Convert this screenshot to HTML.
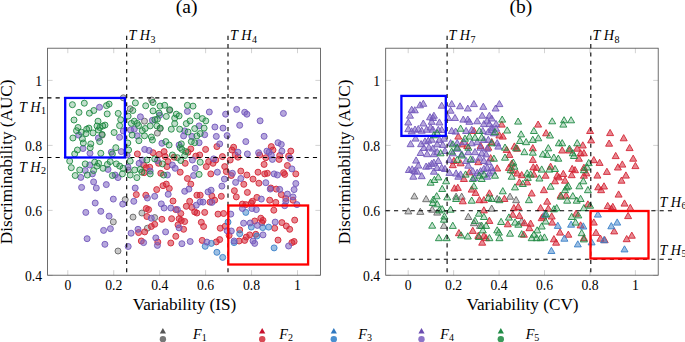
<!DOCTYPE html><html><head><meta charset="utf-8"><style>
html,body{margin:0;padding:0;background:#fff;width:685px;height:342px;overflow:hidden}
svg{display:block}
text{font-family:"Liberation Serif",serif;fill:#000}
.tk{font-size:13.7px}
.lab{font-size:17.2px}
.th{font-size:14.2px;font-style:italic}
.sub{font-size:10px;font-style:normal}
</style></head><body>
<svg width="685" height="342" viewBox="0 0 685 342">
<g stroke="#b4b4b4" stroke-width="0.6">
<line x1="67.80" y1="275.2" x2="67.80" y2="270.2"/>
<line x1="67.80" y1="48.2" x2="67.80" y2="53.2"/>
<line x1="113.74" y1="275.2" x2="113.74" y2="270.2"/>
<line x1="113.74" y1="48.2" x2="113.74" y2="53.2"/>
<line x1="159.68" y1="275.2" x2="159.68" y2="270.2"/>
<line x1="159.68" y1="48.2" x2="159.68" y2="53.2"/>
<line x1="205.62" y1="275.2" x2="205.62" y2="270.2"/>
<line x1="205.62" y1="48.2" x2="205.62" y2="53.2"/>
<line x1="251.56" y1="275.2" x2="251.56" y2="270.2"/>
<line x1="251.56" y1="48.2" x2="251.56" y2="53.2"/>
<line x1="297.50" y1="275.2" x2="297.50" y2="270.2"/>
<line x1="297.50" y1="48.2" x2="297.50" y2="53.2"/>
<line x1="47.6" y1="275.40" x2="52.6" y2="275.40"/>
<line x1="320.4" y1="275.40" x2="315.4" y2="275.40"/>
<line x1="47.6" y1="210.40" x2="52.6" y2="210.40"/>
<line x1="320.4" y1="210.40" x2="315.4" y2="210.40"/>
<line x1="47.6" y1="145.40" x2="52.6" y2="145.40"/>
<line x1="320.4" y1="145.40" x2="315.4" y2="145.40"/>
<line x1="47.6" y1="80.40" x2="52.6" y2="80.40"/>
<line x1="320.4" y1="80.40" x2="315.4" y2="80.40"/>
<line x1="408.20" y1="275.2" x2="408.20" y2="270.2"/>
<line x1="408.20" y1="48.2" x2="408.20" y2="53.2"/>
<line x1="453.64" y1="275.2" x2="453.64" y2="270.2"/>
<line x1="453.64" y1="48.2" x2="453.64" y2="53.2"/>
<line x1="499.08" y1="275.2" x2="499.08" y2="270.2"/>
<line x1="499.08" y1="48.2" x2="499.08" y2="53.2"/>
<line x1="544.52" y1="275.2" x2="544.52" y2="270.2"/>
<line x1="544.52" y1="48.2" x2="544.52" y2="53.2"/>
<line x1="589.96" y1="275.2" x2="589.96" y2="270.2"/>
<line x1="589.96" y1="48.2" x2="589.96" y2="53.2"/>
<line x1="635.40" y1="275.2" x2="635.40" y2="270.2"/>
<line x1="635.40" y1="48.2" x2="635.40" y2="53.2"/>
<line x1="385.7" y1="275.40" x2="390.7" y2="275.40"/>
<line x1="658.2" y1="275.40" x2="653.2" y2="275.40"/>
<line x1="385.7" y1="210.40" x2="390.7" y2="210.40"/>
<line x1="658.2" y1="210.40" x2="653.2" y2="210.40"/>
<line x1="385.7" y1="145.40" x2="390.7" y2="145.40"/>
<line x1="658.2" y1="145.40" x2="653.2" y2="145.40"/>
<line x1="385.7" y1="80.40" x2="390.7" y2="80.40"/>
<line x1="658.2" y1="80.40" x2="653.2" y2="80.40"/>
</g>
<g fill="#888888" fill-opacity="0.45" stroke="#666666" stroke-width="0.9">
<circle cx="123.3" cy="97.8" r="3.0"/>
<circle cx="130.2" cy="108.8" r="3.0"/>
<circle cx="144.5" cy="121.2" r="3.0"/>
<circle cx="102.1" cy="135.1" r="3.0"/>
<circle cx="169.7" cy="110.3" r="3.0"/>
<circle cx="160.2" cy="128.6" r="3.0"/>
<circle cx="157.4" cy="133.1" r="3.0"/>
<circle cx="151.7" cy="100.0" r="3.0"/>
<circle cx="128.2" cy="170.0" r="3.0"/>
<circle cx="125.2" cy="199.6" r="3.0"/>
<circle cx="141.9" cy="213.0" r="3.0"/>
<circle cx="113.3" cy="221.9" r="3.0"/>
<circle cx="133.0" cy="217.1" r="3.0"/>
<circle cx="118.0" cy="251.0" r="3.0"/>
<circle cx="147.4" cy="228.2" r="3.0"/>
<circle cx="154.7" cy="217.6" r="3.0"/>
</g>
<g fill="#d42636" fill-opacity="0.55" stroke="#d42636" stroke-width="0.9">
<circle cx="137.4" cy="153.9" r="3.0"/>
<circle cx="143.6" cy="165.0" r="3.0"/>
<circle cx="144.1" cy="172.7" r="3.0"/>
<circle cx="146.3" cy="167.7" r="3.0"/>
<circle cx="153.0" cy="152.7" r="3.0"/>
<circle cx="159.1" cy="154.4" r="3.0"/>
<circle cx="164.1" cy="151.6" r="3.0"/>
<circle cx="165.2" cy="156.6" r="3.0"/>
<circle cx="168.0" cy="161.6" r="3.0"/>
<circle cx="166.9" cy="166.6" r="3.0"/>
<circle cx="158.6" cy="163.3" r="3.0"/>
<circle cx="190.8" cy="148.9" r="3.0"/>
<circle cx="188.0" cy="152.2" r="3.0"/>
<circle cx="185.2" cy="163.3" r="3.0"/>
<circle cx="180.2" cy="172.2" r="3.0"/>
<circle cx="160.8" cy="173.3" r="3.0"/>
<circle cx="195.8" cy="156.1" r="3.0"/>
<circle cx="149.7" cy="167.2" r="3.0"/>
<circle cx="174.1" cy="157.2" r="3.0"/>
<circle cx="216.9" cy="146.6" r="3.0"/>
<circle cx="205.6" cy="149.4" r="3.0"/>
<circle cx="199.7" cy="155.0" r="3.0"/>
<circle cx="222.4" cy="156.6" r="3.0"/>
<circle cx="230.2" cy="160.0" r="3.0"/>
<circle cx="233.6" cy="147.2" r="3.0"/>
<circle cx="231.9" cy="150.0" r="3.0"/>
<circle cx="235.2" cy="155.0" r="3.0"/>
<circle cx="238.0" cy="157.2" r="3.0"/>
<circle cx="208.6" cy="161.6" r="3.0"/>
<circle cx="213.0" cy="163.3" r="3.0"/>
<circle cx="215.8" cy="160.0" r="3.0"/>
<circle cx="206.3" cy="166.6" r="3.0"/>
<circle cx="224.7" cy="166.6" r="3.0"/>
<circle cx="226.3" cy="171.6" r="3.0"/>
<circle cx="240.8" cy="171.1" r="3.0"/>
<circle cx="210.8" cy="173.9" r="3.0"/>
<circle cx="231.3" cy="175.5" r="3.0"/>
<circle cx="246.9" cy="175.0" r="3.0"/>
<circle cx="271.3" cy="146.6" r="3.0"/>
<circle cx="273.0" cy="150.0" r="3.0"/>
<circle cx="259.7" cy="155.0" r="3.0"/>
<circle cx="265.8" cy="157.7" r="3.0"/>
<circle cx="264.1" cy="164.4" r="3.0"/>
<circle cx="279.7" cy="155.5" r="3.0"/>
<circle cx="279.1" cy="159.4" r="3.0"/>
<circle cx="290.8" cy="151.1" r="3.0"/>
<circle cx="288.6" cy="156.1" r="3.0"/>
<circle cx="287.4" cy="165.5" r="3.0"/>
<circle cx="258.0" cy="172.2" r="3.0"/>
<circle cx="264.7" cy="173.9" r="3.0"/>
<circle cx="267.4" cy="173.3" r="3.0"/>
<circle cx="283.6" cy="172.7" r="3.0"/>
<circle cx="284.7" cy="174.4" r="3.0"/>
<circle cx="295.8" cy="173.9" r="3.0"/>
<circle cx="136.3" cy="194.6" r="3.0"/>
<circle cx="145.8" cy="195.2" r="3.0"/>
<circle cx="146.3" cy="208.5" r="3.0"/>
<circle cx="156.7" cy="189.6" r="3.0"/>
<circle cx="163.0" cy="185.7" r="3.0"/>
<circle cx="166.3" cy="184.1" r="3.0"/>
<circle cx="169.3" cy="188.5" r="3.0"/>
<circle cx="173.0" cy="201.0" r="3.0"/>
<circle cx="187.4" cy="178.5" r="3.0"/>
<circle cx="190.8" cy="184.1" r="3.0"/>
<circle cx="189.7" cy="201.3" r="3.0"/>
<circle cx="186.3" cy="206.3" r="3.0"/>
<circle cx="191.9" cy="207.4" r="3.0"/>
<circle cx="194.7" cy="211.9" r="3.0"/>
<circle cx="196.9" cy="213.0" r="3.0"/>
<circle cx="180.8" cy="213.5" r="3.0"/>
<circle cx="175.8" cy="209.6" r="3.0"/>
<circle cx="148.6" cy="209.6" r="3.0"/>
<circle cx="196.9" cy="195.2" r="3.0"/>
<circle cx="200.2" cy="195.2" r="3.0"/>
<circle cx="211.9" cy="196.1" r="3.0"/>
<circle cx="214.7" cy="200.2" r="3.0"/>
<circle cx="210.0" cy="202.1" r="3.0"/>
<circle cx="221.3" cy="196.3" r="3.0"/>
<circle cx="234.4" cy="190.7" r="3.0"/>
<circle cx="236.3" cy="196.9" r="3.0"/>
<circle cx="243.8" cy="184.3" r="3.0"/>
<circle cx="247.4" cy="192.4" r="3.0"/>
<circle cx="242.4" cy="204.1" r="3.0"/>
<circle cx="245.8" cy="204.6" r="3.0"/>
<circle cx="204.7" cy="212.4" r="3.0"/>
<circle cx="223.6" cy="213.5" r="3.0"/>
<circle cx="218.0" cy="214.1" r="3.0"/>
<circle cx="253.0" cy="179.1" r="3.0"/>
<circle cx="258.9" cy="183.2" r="3.0"/>
<circle cx="256.9" cy="197.4" r="3.0"/>
<circle cx="252.4" cy="201.3" r="3.0"/>
<circle cx="251.3" cy="203.0" r="3.0"/>
<circle cx="269.7" cy="200.2" r="3.0"/>
<circle cx="275.8" cy="202.4" r="3.0"/>
<circle cx="270.8" cy="188.0" r="3.0"/>
<circle cx="276.3" cy="189.1" r="3.0"/>
<circle cx="281.3" cy="194.6" r="3.0"/>
<circle cx="285.8" cy="198.5" r="3.0"/>
<circle cx="293.0" cy="200.2" r="3.0"/>
<circle cx="273.8" cy="210.2" r="3.0"/>
<circle cx="138.6" cy="232.6" r="3.0"/>
<circle cx="144.7" cy="231.9" r="3.0"/>
<circle cx="141.3" cy="241.0" r="3.0"/>
<circle cx="146.9" cy="216.5" r="3.0"/>
<circle cx="161.9" cy="219.3" r="3.0"/>
<circle cx="171.6" cy="218.7" r="3.0"/>
<circle cx="178.0" cy="224.9" r="3.0"/>
<circle cx="179.1" cy="218.7" r="3.0"/>
<circle cx="181.3" cy="220.4" r="3.0"/>
<circle cx="184.7" cy="221.5" r="3.0"/>
<circle cx="183.6" cy="229.3" r="3.0"/>
<circle cx="175.8" cy="236.3" r="3.0"/>
<circle cx="170.8" cy="243.0" r="3.0"/>
<circle cx="157.8" cy="242.1" r="3.0"/>
<circle cx="154.7" cy="224.3" r="3.0"/>
<circle cx="151.3" cy="226.5" r="3.0"/>
<circle cx="201.3" cy="222.3" r="3.0"/>
<circle cx="203.6" cy="226.5" r="3.0"/>
<circle cx="220.2" cy="228.2" r="3.0"/>
<circle cx="225.2" cy="226.3" r="3.0"/>
<circle cx="229.1" cy="235.4" r="3.0"/>
<circle cx="239.7" cy="229.9" r="3.0"/>
<circle cx="202.2" cy="240.4" r="3.0"/>
<circle cx="216.3" cy="241.9" r="3.0"/>
<circle cx="219.7" cy="239.6" r="3.0"/>
<circle cx="239.1" cy="241.0" r="3.0"/>
<circle cx="244.7" cy="240.4" r="3.0"/>
<circle cx="246.3" cy="237.1" r="3.0"/>
<circle cx="254.7" cy="221.0" r="3.0"/>
<circle cx="260.8" cy="218.2" r="3.0"/>
<circle cx="263.0" cy="220.4" r="3.0"/>
<circle cx="261.9" cy="222.6" r="3.0"/>
<circle cx="274.7" cy="228.2" r="3.0"/>
<circle cx="281.9" cy="222.6" r="3.0"/>
<circle cx="286.3" cy="226.0" r="3.0"/>
<circle cx="289.7" cy="229.3" r="3.0"/>
<circle cx="294.7" cy="220.1" r="3.0"/>
<circle cx="249.7" cy="234.9" r="3.0"/>
<circle cx="255.8" cy="234.3" r="3.0"/>
<circle cx="278.0" cy="240.1" r="3.0"/>
<circle cx="291.9" cy="242.6" r="3.0"/>
<circle cx="294.1" cy="241.5" r="3.0"/>
</g>
<g fill="#3a80c8" fill-opacity="0.5" stroke="#3a80c8" stroke-width="0.9">
<circle cx="245.8" cy="212.4" r="3.0"/>
<circle cx="228.0" cy="222.1" r="3.0"/>
<circle cx="239.7" cy="233.7" r="3.0"/>
<circle cx="211.3" cy="243.4" r="3.0"/>
<circle cx="205.2" cy="246.3" r="3.0"/>
<circle cx="234.1" cy="242.6" r="3.0"/>
<circle cx="216.9" cy="252.3" r="3.0"/>
<circle cx="251.3" cy="227.1" r="3.0"/>
<circle cx="262.7" cy="227.6" r="3.0"/>
<circle cx="268.6" cy="227.1" r="3.0"/>
<circle cx="256.9" cy="236.0" r="3.0"/>
<circle cx="274.1" cy="247.9" r="3.0"/>
<circle cx="222.7" cy="257.4" r="3.0"/>
</g>
<g fill="#7a5fc0" fill-opacity="0.55" stroke="#7358bb" stroke-width="0.9">
<circle cx="99.5" cy="107.3" r="3.0"/>
<circle cx="140.4" cy="116.8" r="3.0"/>
<circle cx="130.6" cy="130.0" r="3.0"/>
<circle cx="134.3" cy="129.2" r="3.0"/>
<circle cx="123.3" cy="131.0" r="3.0"/>
<circle cx="137.2" cy="135.8" r="3.0"/>
<circle cx="78.7" cy="135.1" r="3.0"/>
<circle cx="119.6" cy="137.3" r="3.0"/>
<circle cx="98.4" cy="138.0" r="3.0"/>
<circle cx="187.4" cy="111.4" r="3.0"/>
<circle cx="159.7" cy="115.3" r="3.0"/>
<circle cx="152.4" cy="120.3" r="3.0"/>
<circle cx="184.7" cy="130.9" r="3.0"/>
<circle cx="183.6" cy="135.9" r="3.0"/>
<circle cx="191.9" cy="136.4" r="3.0"/>
<circle cx="209.3" cy="112.0" r="3.0"/>
<circle cx="225.6" cy="114.2" r="3.0"/>
<circle cx="236.7" cy="109.4" r="3.0"/>
<circle cx="244.7" cy="112.3" r="3.0"/>
<circle cx="246.9" cy="114.2" r="3.0"/>
<circle cx="239.7" cy="125.3" r="3.0"/>
<circle cx="214.9" cy="127.0" r="3.0"/>
<circle cx="223.0" cy="128.1" r="3.0"/>
<circle cx="227.1" cy="135.6" r="3.0"/>
<circle cx="216.3" cy="136.4" r="3.0"/>
<circle cx="199.1" cy="125.9" r="3.0"/>
<circle cx="204.7" cy="134.7" r="3.0"/>
<circle cx="283.4" cy="113.4" r="3.0"/>
<circle cx="260.1" cy="120.8" r="3.0"/>
<circle cx="264.1" cy="136.3" r="3.0"/>
<circle cx="83.0" cy="148.5" r="3.0"/>
<circle cx="90.0" cy="153.3" r="3.0"/>
<circle cx="89.7" cy="165.0" r="3.0"/>
<circle cx="85.2" cy="170.5" r="3.0"/>
<circle cx="92.4" cy="173.9" r="3.0"/>
<circle cx="111.3" cy="152.2" r="3.0"/>
<circle cx="121.3" cy="151.6" r="3.0"/>
<circle cx="127.1" cy="155.0" r="3.0"/>
<circle cx="144.7" cy="149.4" r="3.0"/>
<circle cx="139.1" cy="163.3" r="3.0"/>
<circle cx="108.0" cy="169.4" r="3.0"/>
<circle cx="128.0" cy="167.2" r="3.0"/>
<circle cx="142.4" cy="160.0" r="3.0"/>
<circle cx="115.2" cy="175.0" r="3.0"/>
<circle cx="161.9" cy="143.3" r="3.0"/>
<circle cx="179.1" cy="145.0" r="3.0"/>
<circle cx="149.1" cy="150.5" r="3.0"/>
<circle cx="192.4" cy="160.0" r="3.0"/>
<circle cx="172.4" cy="165.0" r="3.0"/>
<circle cx="175.2" cy="168.3" r="3.0"/>
<circle cx="157.4" cy="160.5" r="3.0"/>
<circle cx="150.2" cy="171.1" r="3.0"/>
<circle cx="195.2" cy="168.3" r="3.0"/>
<circle cx="167.4" cy="175.0" r="3.0"/>
<circle cx="193.6" cy="175.5" r="3.0"/>
<circle cx="199.1" cy="142.7" r="3.0"/>
<circle cx="219.7" cy="143.9" r="3.0"/>
<circle cx="238.0" cy="152.2" r="3.0"/>
<circle cx="245.8" cy="141.6" r="3.0"/>
<circle cx="247.4" cy="153.9" r="3.0"/>
<circle cx="213.6" cy="158.9" r="3.0"/>
<circle cx="217.4" cy="172.2" r="3.0"/>
<circle cx="232.4" cy="173.3" r="3.0"/>
<circle cx="258.6" cy="152.7" r="3.0"/>
<circle cx="266.9" cy="151.1" r="3.0"/>
<circle cx="269.1" cy="152.2" r="3.0"/>
<circle cx="271.3" cy="155.0" r="3.0"/>
<circle cx="272.4" cy="159.4" r="3.0"/>
<circle cx="278.0" cy="142.7" r="3.0"/>
<circle cx="281.3" cy="144.4" r="3.0"/>
<circle cx="281.9" cy="151.1" r="3.0"/>
<circle cx="290.2" cy="158.3" r="3.0"/>
<circle cx="291.9" cy="168.9" r="3.0"/>
<circle cx="274.1" cy="173.9" r="3.0"/>
<circle cx="277.4" cy="175.0" r="3.0"/>
<circle cx="80.8" cy="177.4" r="3.0"/>
<circle cx="93.6" cy="181.9" r="3.0"/>
<circle cx="81.6" cy="187.4" r="3.0"/>
<circle cx="96.3" cy="188.0" r="3.0"/>
<circle cx="95.2" cy="203.0" r="3.0"/>
<circle cx="85.8" cy="212.4" r="3.0"/>
<circle cx="118.0" cy="177.6" r="3.0"/>
<circle cx="106.3" cy="184.6" r="3.0"/>
<circle cx="135.2" cy="188.0" r="3.0"/>
<circle cx="113.3" cy="199.1" r="3.0"/>
<circle cx="122.7" cy="204.1" r="3.0"/>
<circle cx="133.8" cy="201.3" r="3.0"/>
<circle cx="100.8" cy="211.3" r="3.0"/>
<circle cx="109.1" cy="216.1" r="3.0"/>
<circle cx="147.4" cy="198.0" r="3.0"/>
<circle cx="154.7" cy="196.3" r="3.0"/>
<circle cx="168.2" cy="194.3" r="3.0"/>
<circle cx="161.3" cy="203.9" r="3.0"/>
<circle cx="164.1" cy="208.0" r="3.0"/>
<circle cx="170.8" cy="208.0" r="3.0"/>
<circle cx="177.4" cy="209.6" r="3.0"/>
<circle cx="184.7" cy="191.3" r="3.0"/>
<circle cx="188.9" cy="189.1" r="3.0"/>
<circle cx="196.3" cy="205.2" r="3.0"/>
<circle cx="224.4" cy="179.1" r="3.0"/>
<circle cx="221.9" cy="186.1" r="3.0"/>
<circle cx="208.0" cy="191.9" r="3.0"/>
<circle cx="211.1" cy="190.2" r="3.0"/>
<circle cx="235.6" cy="182.4" r="3.0"/>
<circle cx="240.8" cy="178.5" r="3.0"/>
<circle cx="200.2" cy="201.9" r="3.0"/>
<circle cx="203.0" cy="202.1" r="3.0"/>
<circle cx="211.9" cy="202.4" r="3.0"/>
<circle cx="242.4" cy="208.5" r="3.0"/>
<circle cx="230.8" cy="214.1" r="3.0"/>
<circle cx="265.8" cy="182.7" r="3.0"/>
<circle cx="270.2" cy="189.1" r="3.0"/>
<circle cx="279.7" cy="189.4" r="3.0"/>
<circle cx="261.3" cy="199.1" r="3.0"/>
<circle cx="287.4" cy="194.1" r="3.0"/>
<circle cx="285.8" cy="201.3" r="3.0"/>
<circle cx="293.0" cy="196.9" r="3.0"/>
<circle cx="295.8" cy="183.5" r="3.0"/>
<circle cx="294.1" cy="189.6" r="3.0"/>
<circle cx="296.9" cy="204.6" r="3.0"/>
<circle cx="284.7" cy="205.7" r="3.0"/>
<circle cx="251.9" cy="208.5" r="3.0"/>
<circle cx="256.3" cy="209.6" r="3.0"/>
<circle cx="87.1" cy="238.7" r="3.0"/>
<circle cx="103.6" cy="230.4" r="3.0"/>
<circle cx="110.4" cy="228.7" r="3.0"/>
<circle cx="104.9" cy="244.3" r="3.0"/>
<circle cx="131.1" cy="233.2" r="3.0"/>
<circle cx="128.2" cy="246.5" r="3.0"/>
<circle cx="138.0" cy="229.3" r="3.0"/>
<circle cx="143.6" cy="242.6" r="3.0"/>
<circle cx="151.3" cy="218.2" r="3.0"/>
<circle cx="165.6" cy="231.9" r="3.0"/>
<circle cx="155.8" cy="237.9" r="3.0"/>
<circle cx="157.4" cy="245.4" r="3.0"/>
<circle cx="179.1" cy="227.9" r="3.0"/>
<circle cx="181.9" cy="243.7" r="3.0"/>
<circle cx="190.2" cy="241.5" r="3.0"/>
<circle cx="206.9" cy="242.1" r="3.0"/>
<circle cx="227.1" cy="230.7" r="3.0"/>
<circle cx="231.3" cy="231.0" r="3.0"/>
<circle cx="234.1" cy="241.0" r="3.0"/>
<circle cx="243.6" cy="223.2" r="3.0"/>
<circle cx="250.2" cy="223.0" r="3.0"/>
<circle cx="257.4" cy="225.4" r="3.0"/>
<circle cx="275.2" cy="222.1" r="3.0"/>
<circle cx="263.0" cy="234.9" r="3.0"/>
<circle cx="253.0" cy="241.0" r="3.0"/>
<circle cx="254.7" cy="243.4" r="3.0"/>
<circle cx="288.6" cy="246.0" r="3.0"/>
</g>
<g fill="#1f8a43" fill-opacity="0.28" stroke="#1f8a43" stroke-width="0.9">
<circle cx="72.4" cy="104.7" r="3.0"/>
<circle cx="84.3" cy="103.2" r="3.0"/>
<circle cx="79.0" cy="112.4" r="3.0"/>
<circle cx="89.4" cy="113.2" r="3.0"/>
<circle cx="93.8" cy="110.5" r="3.0"/>
<circle cx="106.5" cy="105.6" r="3.0"/>
<circle cx="109.1" cy="104.1" r="3.0"/>
<circle cx="107.2" cy="113.9" r="3.0"/>
<circle cx="74.0" cy="120.0" r="3.0"/>
<circle cx="98.0" cy="121.2" r="3.0"/>
<circle cx="118.2" cy="113.4" r="3.0"/>
<circle cx="120.7" cy="119.7" r="3.0"/>
<circle cx="119.6" cy="125.6" r="3.0"/>
<circle cx="114.1" cy="132.5" r="3.0"/>
<circle cx="78.0" cy="127.5" r="3.0"/>
<circle cx="76.5" cy="130.7" r="3.0"/>
<circle cx="81.3" cy="132.2" r="3.0"/>
<circle cx="86.7" cy="129.2" r="3.0"/>
<circle cx="88.9" cy="128.1" r="3.0"/>
<circle cx="93.0" cy="132.9" r="3.0"/>
<circle cx="97.0" cy="126.0" r="3.0"/>
<circle cx="99.9" cy="127.5" r="3.0"/>
<circle cx="102.8" cy="126.0" r="3.0"/>
<circle cx="105.0" cy="125.1" r="3.0"/>
<circle cx="98.4" cy="130.0" r="3.0"/>
<circle cx="102.1" cy="134.4" r="3.0"/>
<circle cx="86.0" cy="133.6" r="3.0"/>
<circle cx="135.4" cy="102.9" r="3.0"/>
<circle cx="145.7" cy="105.8" r="3.0"/>
<circle cx="132.8" cy="110.5" r="3.0"/>
<circle cx="128.1" cy="116.1" r="3.0"/>
<circle cx="134.3" cy="121.2" r="3.0"/>
<circle cx="137.2" cy="123.4" r="3.0"/>
<circle cx="131.3" cy="123.4" r="3.0"/>
<circle cx="138.6" cy="125.6" r="3.0"/>
<circle cx="142.3" cy="130.7" r="3.0"/>
<circle cx="132.1" cy="135.1" r="3.0"/>
<circle cx="144.5" cy="135.8" r="3.0"/>
<circle cx="145.2" cy="128.5" r="3.0"/>
<circle cx="72.9" cy="138.0" r="3.0"/>
<circle cx="153.0" cy="102.5" r="3.0"/>
<circle cx="160.0" cy="106.1" r="3.0"/>
<circle cx="164.7" cy="105.3" r="3.0"/>
<circle cx="169.7" cy="109.7" r="3.0"/>
<circle cx="187.4" cy="105.3" r="3.0"/>
<circle cx="193.0" cy="106.1" r="3.0"/>
<circle cx="153.0" cy="110.9" r="3.0"/>
<circle cx="159.1" cy="113.1" r="3.0"/>
<circle cx="166.3" cy="116.4" r="3.0"/>
<circle cx="176.3" cy="114.2" r="3.0"/>
<circle cx="179.1" cy="115.9" r="3.0"/>
<circle cx="174.7" cy="118.1" r="3.0"/>
<circle cx="154.9" cy="119.7" r="3.0"/>
<circle cx="157.4" cy="119.2" r="3.0"/>
<circle cx="174.7" cy="123.6" r="3.0"/>
<circle cx="186.3" cy="123.6" r="3.0"/>
<circle cx="190.0" cy="120.9" r="3.0"/>
<circle cx="150.2" cy="125.9" r="3.0"/>
<circle cx="156.9" cy="125.9" r="3.0"/>
<circle cx="160.2" cy="128.1" r="3.0"/>
<circle cx="171.3" cy="129.2" r="3.0"/>
<circle cx="179.7" cy="129.2" r="3.0"/>
<circle cx="188.0" cy="132.0" r="3.0"/>
<circle cx="194.7" cy="128.6" r="3.0"/>
<circle cx="196.9" cy="115.9" r="3.0"/>
<circle cx="151.3" cy="137.0" r="3.0"/>
<circle cx="196.9" cy="135.9" r="3.0"/>
<circle cx="202.4" cy="118.6" r="3.0"/>
<circle cx="205.8" cy="120.9" r="3.0"/>
<circle cx="204.1" cy="128.1" r="3.0"/>
<circle cx="200.2" cy="133.6" r="3.0"/>
<circle cx="82.4" cy="138.9" r="3.0"/>
<circle cx="83.3" cy="143.0" r="3.0"/>
<circle cx="90.8" cy="143.9" r="3.0"/>
<circle cx="90.2" cy="147.7" r="3.0"/>
<circle cx="77.4" cy="150.0" r="3.0"/>
<circle cx="74.7" cy="153.9" r="3.0"/>
<circle cx="69.7" cy="161.1" r="3.0"/>
<circle cx="71.3" cy="167.7" r="3.0"/>
<circle cx="79.7" cy="170.0" r="3.0"/>
<circle cx="85.2" cy="163.9" r="3.0"/>
<circle cx="94.7" cy="162.2" r="3.0"/>
<circle cx="93.6" cy="170.5" r="3.0"/>
<circle cx="75.2" cy="175.5" r="3.0"/>
<circle cx="87.4" cy="175.0" r="3.0"/>
<circle cx="96.9" cy="166.1" r="3.0"/>
<circle cx="99.7" cy="141.6" r="3.0"/>
<circle cx="115.8" cy="147.7" r="3.0"/>
<circle cx="112.4" cy="153.9" r="3.0"/>
<circle cx="100.8" cy="153.3" r="3.0"/>
<circle cx="127.8" cy="143.0" r="3.0"/>
<circle cx="128.6" cy="150.0" r="3.0"/>
<circle cx="138.9" cy="140.7" r="3.0"/>
<circle cx="130.2" cy="161.1" r="3.0"/>
<circle cx="110.2" cy="161.6" r="3.0"/>
<circle cx="107.4" cy="164.4" r="3.0"/>
<circle cx="103.0" cy="168.3" r="3.0"/>
<circle cx="116.3" cy="163.9" r="3.0"/>
<circle cx="119.7" cy="166.1" r="3.0"/>
<circle cx="123.0" cy="168.3" r="3.0"/>
<circle cx="134.7" cy="170.0" r="3.0"/>
<circle cx="140.2" cy="169.4" r="3.0"/>
<circle cx="141.9" cy="172.2" r="3.0"/>
<circle cx="146.9" cy="160.0" r="3.0"/>
<circle cx="122.4" cy="173.9" r="3.0"/>
<circle cx="130.2" cy="175.0" r="3.0"/>
<circle cx="112.4" cy="175.5" r="3.0"/>
<circle cx="98.6" cy="163.3" r="3.0"/>
<circle cx="152.4" cy="140.0" r="3.0"/>
<circle cx="165.8" cy="141.6" r="3.0"/>
<circle cx="169.1" cy="145.0" r="3.0"/>
<circle cx="181.3" cy="143.9" r="3.0"/>
<circle cx="180.2" cy="147.7" r="3.0"/>
<circle cx="181.9" cy="149.4" r="3.0"/>
<circle cx="191.3" cy="141.6" r="3.0"/>
<circle cx="194.7" cy="142.7" r="3.0"/>
<circle cx="185.8" cy="151.6" r="3.0"/>
<circle cx="184.7" cy="155.5" r="3.0"/>
<circle cx="172.4" cy="155.0" r="3.0"/>
<circle cx="177.4" cy="157.7" r="3.0"/>
<circle cx="180.8" cy="160.5" r="3.0"/>
<circle cx="162.4" cy="163.9" r="3.0"/>
<circle cx="150.2" cy="173.9" r="3.0"/>
<circle cx="163.6" cy="175.0" r="3.0"/>
<circle cx="154.7" cy="158.9" r="3.0"/>
<circle cx="200.2" cy="162.2" r="3.0"/>
<circle cx="199.1" cy="174.4" r="3.0"/>
<circle cx="136.9" cy="177.6" r="3.0"/>
</g>
<g fill="#888888" fill-opacity="0.45" stroke="#666666" stroke-width="0.9">
<path d="M414.4 192.8L417.9 198.9L410.9 198.9Z"/>
<path d="M426.1 195.5L429.6 201.7L422.6 201.7Z"/>
<path d="M408.3 207.8L411.8 213.9L404.8 213.9Z"/>
<path d="M420.3 208.2L423.8 214.4L416.8 214.4Z"/>
<path d="M432.2 206.0L435.7 212.2L428.7 212.2Z"/>
<path d="M456.1 193.1L459.6 199.2L452.6 199.2Z"/>
<path d="M461.7 193.1L465.2 199.2L458.2 199.2Z"/>
<path d="M437.2 208.9L440.7 215.1L433.7 215.1Z"/>
<path d="M468.3 213.3L471.8 219.5L464.8 219.5Z"/>
<path d="M443.9 222.2L447.4 228.4L440.4 228.4Z"/>
<path d="M473.9 219.5L477.4 225.7L470.4 225.7Z"/>
<path d="M480.0 222.2L483.5 228.4L476.5 228.4Z"/>
<path d="M497.2 195.3L500.7 201.5L493.7 201.5Z"/>
<path d="M510.0 193.1L513.5 199.2L506.5 199.2Z"/>
<path d="M516.1 196.5L519.6 202.7L512.6 202.7Z"/>
<path d="M491.7 205.0L495.2 211.2L488.2 211.2Z"/>
<path d="M521.7 217.8L525.2 224.0L518.2 224.0Z"/>
</g>
<g fill="#d42636" fill-opacity="0.55" stroke="#d42636" stroke-width="0.9">
<path d="M458.3 132.9L461.8 139.1L454.8 139.1Z"/>
<path d="M473.9 127.4L477.4 133.5L470.4 133.5Z"/>
<path d="M461.7 140.8L465.2 146.9L458.2 146.9Z"/>
<path d="M467.2 142.3L470.7 148.5L463.7 148.5Z"/>
<path d="M480.6 142.3L484.1 148.5L477.1 148.5Z"/>
<path d="M453.9 157.3L457.4 163.5L450.4 163.5Z"/>
<path d="M478.3 158.5L481.8 164.7L474.8 164.7Z"/>
<path d="M460.6 159.6L464.1 165.8L457.1 165.8Z"/>
<path d="M452.8 161.5L456.3 167.7L449.3 167.7Z"/>
<path d="M463.9 175.3L467.4 181.5L460.4 181.5Z"/>
<path d="M469.4 168.8L472.9 174.9L465.9 174.9Z"/>
<path d="M454.4 184.8L457.9 191.0L450.9 191.0Z"/>
<path d="M457.8 184.2L461.3 190.4L454.3 190.4Z"/>
<path d="M471.7 185.9L475.2 192.1L468.2 192.1Z"/>
<path d="M475.6 189.2L479.1 195.4L472.1 195.4Z"/>
<path d="M479.4 196.5L482.9 202.7L475.9 202.7Z"/>
<path d="M483.9 196.5L487.4 202.7L480.4 202.7Z"/>
<path d="M462.8 197.6L466.3 203.8L459.3 203.8Z"/>
<path d="M483.9 206.8L487.4 212.9L480.4 212.9Z"/>
<path d="M458.9 229.5L462.4 235.7L455.4 235.7Z"/>
<path d="M472.8 227.2L476.3 233.4L469.3 233.4Z"/>
<path d="M478.3 232.2L481.8 238.4L474.8 238.4Z"/>
<path d="M483.9 232.2L487.4 238.4L480.4 238.4Z"/>
<path d="M482.2 239.0L485.7 245.2L478.7 245.2Z"/>
<path d="M501.7 121.0L505.2 127.1L498.2 127.1Z"/>
<path d="M502.8 132.9L506.3 139.1L499.3 139.1Z"/>
<path d="M499.4 131.8L502.9 138.0L495.9 138.0Z"/>
<path d="M491.7 138.5L495.2 144.7L488.2 144.7Z"/>
<path d="M488.3 144.0L491.8 150.2L484.8 150.2Z"/>
<path d="M506.7 146.2L510.2 152.4L503.2 152.4Z"/>
<path d="M509.4 151.2L512.9 157.4L505.9 157.4Z"/>
<path d="M514.4 142.9L517.9 149.1L510.9 149.1Z"/>
<path d="M517.2 145.1L520.7 151.2L513.7 151.2Z"/>
<path d="M532.8 144.6L536.3 150.8L529.3 150.8Z"/>
<path d="M532.8 156.2L536.3 162.4L529.3 162.4Z"/>
<path d="M490.6 154.6L494.1 160.8L487.1 160.8Z"/>
<path d="M511.7 160.1L515.2 166.2L508.2 166.2Z"/>
<path d="M497.2 164.8L500.7 171.0L493.7 171.0Z"/>
<path d="M508.9 164.2L512.4 170.4L505.4 170.4Z"/>
<path d="M512.8 167.0L516.3 173.2L509.3 173.2Z"/>
<path d="M517.2 169.8L520.7 176.0L513.7 176.0Z"/>
<path d="M521.7 171.5L525.2 177.7L518.2 177.7Z"/>
<path d="M519.4 178.8L522.9 184.9L515.9 184.9Z"/>
<path d="M527.2 178.8L530.7 184.9L523.7 184.9Z"/>
<path d="M533.3 163.8L536.8 169.9L529.8 169.9Z"/>
<path d="M489.4 189.8L492.9 196.0L485.9 196.0Z"/>
<path d="M504.4 195.3L507.9 201.5L500.9 201.5Z"/>
<path d="M531.7 189.8L535.2 196.0L528.2 196.0Z"/>
<path d="M533.9 170.9L537.4 177.1L530.4 177.1Z"/>
<path d="M489.4 217.2L492.9 223.4L485.9 223.4Z"/>
<path d="M507.8 220.6L511.3 226.8L504.3 226.8Z"/>
<path d="M513.9 204.5L517.4 210.7L510.4 210.7Z"/>
<path d="M518.3 203.3L521.8 209.5L514.8 209.5Z"/>
<path d="M512.8 211.1L516.3 217.2L509.3 217.2Z"/>
<path d="M519.4 212.2L522.9 218.4L515.9 218.4Z"/>
<path d="M524.4 219.5L527.9 225.7L520.9 225.7Z"/>
<path d="M530.6 220.0L534.1 226.2L527.1 226.2Z"/>
<path d="M529.4 224.5L532.9 230.7L525.9 230.7Z"/>
<path d="M523.9 231.1L527.4 237.2L520.4 237.2Z"/>
<path d="M486.1 234.5L489.6 240.7L482.6 240.7Z"/>
<path d="M538.1 121.0L541.6 127.1L534.6 127.1Z"/>
<path d="M546.1 129.6L549.6 135.8L542.6 135.8Z"/>
<path d="M562.2 146.8L565.7 153.0L558.7 153.0Z"/>
<path d="M569.4 146.8L572.9 153.0L565.9 153.0Z"/>
<path d="M577.2 145.1L580.7 151.2L573.7 151.2Z"/>
<path d="M582.8 141.8L586.3 148.0L579.3 148.0Z"/>
<path d="M580.6 149.6L584.1 155.8L577.1 155.8Z"/>
<path d="M583.9 149.6L587.4 155.8L580.4 155.8Z"/>
<path d="M578.9 155.1L582.4 161.2L575.4 161.2Z"/>
<path d="M536.7 164.2L540.2 170.4L533.2 170.4Z"/>
<path d="M545.6 172.0L549.1 178.2L542.1 178.2Z"/>
<path d="M550.6 163.1L554.1 169.2L547.1 169.2Z"/>
<path d="M557.2 172.0L560.7 178.2L553.7 178.2Z"/>
<path d="M558.9 173.8L562.4 179.9L555.4 179.9Z"/>
<path d="M555.0 177.6L558.5 183.8L551.5 183.8Z"/>
<path d="M563.3 170.3L566.8 176.5L559.8 176.5Z"/>
<path d="M565.0 177.0L568.5 183.2L561.5 183.2Z"/>
<path d="M572.2 165.3L575.7 171.5L568.7 171.5Z"/>
<path d="M575.0 166.5L578.5 172.7L571.5 172.7Z"/>
<path d="M571.7 171.5L575.2 177.7L568.2 177.7Z"/>
<path d="M543.9 186.5L547.4 192.7L540.4 192.7Z"/>
<path d="M560.6 192.0L564.1 198.2L557.1 198.2Z"/>
<path d="M566.1 192.0L569.6 198.2L562.6 198.2Z"/>
<path d="M583.9 172.0L587.4 178.2L580.4 178.2Z"/>
<path d="M583.9 164.2L587.4 170.4L580.4 170.4Z"/>
<path d="M547.2 198.1L550.7 204.2L543.7 204.2Z"/>
<path d="M540.6 204.5L544.1 210.7L537.1 210.7Z"/>
<path d="M548.3 205.0L551.8 211.2L544.8 211.2Z"/>
<path d="M543.3 212.8L546.8 219.0L539.8 219.0Z"/>
<path d="M541.7 214.5L545.2 220.7L538.2 220.7Z"/>
<path d="M551.7 212.8L555.2 219.0L548.2 219.0Z"/>
<path d="M552.2 218.9L555.7 225.1L548.7 225.1Z"/>
<path d="M560.0 228.9L563.5 235.1L556.5 235.1Z"/>
<path d="M568.3 231.1L571.8 237.2L564.8 237.2Z"/>
<path d="M576.1 210.0L579.6 216.2L572.6 216.2Z"/>
<path d="M580.6 221.8L584.1 227.9L577.1 227.9Z"/>
<path d="M553.9 235.6L557.4 241.8L550.4 241.8Z"/>
<path d="M583.9 234.5L587.4 240.7L580.4 240.7Z"/>
<path d="M556.1 239.0L559.6 245.2L552.6 245.2Z"/>
<path d="M590.1 127.4L593.6 133.5L586.6 133.5Z"/>
<path d="M591.1 136.8L594.6 142.9L587.6 142.9Z"/>
<path d="M610.1 129.4L613.6 135.6L606.6 135.6Z"/>
<path d="M609.1 140.0L612.6 146.2L605.6 146.2Z"/>
<path d="M623.7 134.6L627.2 140.8L620.2 140.8Z"/>
<path d="M629.6 144.4L633.1 150.6L626.1 150.6Z"/>
<path d="M615.7 152.4L619.2 158.6L612.2 158.6Z"/>
<path d="M633.2 155.1L636.7 161.2L629.7 161.2Z"/>
<path d="M593.8 156.5L597.3 162.7L590.3 162.7Z"/>
<path d="M599.6 159.2L603.1 165.4L596.1 165.4Z"/>
<path d="M617.9 163.8L621.4 170.0L614.4 170.0Z"/>
<path d="M622.3 160.9L625.8 167.1L618.8 167.1Z"/>
<path d="M635.4 162.4L638.9 168.6L631.9 168.6Z"/>
<path d="M606.9 168.2L610.4 174.4L603.4 174.4Z"/>
<path d="M597.4 171.9L600.9 178.1L593.9 178.1Z"/>
<path d="M625.9 171.9L629.4 178.1L622.4 178.1Z"/>
<path d="M621.5 177.0L625.0 183.2L618.0 183.2Z"/>
<path d="M598.2 183.6L601.7 189.8L594.7 189.8Z"/>
<path d="M604.0 182.8L607.5 189.0L600.5 189.0Z"/>
<path d="M601.1 186.5L604.6 192.7L597.6 192.7Z"/>
<path d="M618.6 190.9L622.1 197.1L615.1 197.1Z"/>
<path d="M586.5 169.8L590.0 175.9L583.0 175.9Z"/>
<path d="M624.5 199.9L628.0 206.1L621.0 206.1Z"/>
<path d="M630.3 204.3L633.8 210.5L626.8 210.5Z"/>
<path d="M607.7 202.4L611.2 208.6L604.2 208.6Z"/>
<path d="M612.8 203.3L616.3 209.5L609.3 209.5Z"/>
<path d="M611.3 205.1L614.8 211.2L607.8 211.2Z"/>
<path d="M628.1 212.4L631.6 218.6L624.6 218.6Z"/>
<path d="M593.8 218.9L597.3 225.1L590.3 225.1Z"/>
<path d="M596.0 229.2L599.5 235.4L592.5 235.4Z"/>
<path d="M614.2 227.8L617.7 233.9L610.7 233.9Z"/>
<path d="M600.4 235.0L603.9 241.2L596.9 241.2Z"/>
<path d="M604.7 236.5L608.2 242.7L601.2 242.7Z"/>
<path d="M626.7 235.5L630.2 241.7L623.2 241.7Z"/>
<path d="M631.8 232.1L635.3 238.2L628.3 238.2Z"/>
<path d="M587.9 200.8L591.4 206.9L584.4 206.9Z"/>
</g>
<g fill="#3a80c8" fill-opacity="0.5" stroke="#3a80c8" stroke-width="0.9">
<path d="M545.0 211.1L548.5 217.2L541.5 217.2Z"/>
<path d="M557.8 222.2L561.3 228.4L554.3 228.4Z"/>
<path d="M571.1 221.1L574.6 227.2L567.6 227.2Z"/>
<path d="M564.4 235.0L567.9 241.2L560.9 241.2Z"/>
<path d="M583.3 222.8L586.8 229.0L579.8 229.0Z"/>
<path d="M551.4 247.3L554.9 253.5L547.9 253.5Z"/>
<path d="M577.8 240.8L581.3 246.9L574.3 246.9Z"/>
<path d="M597.9 210.9L601.4 217.1L594.4 217.1Z"/>
<path d="M611.3 222.6L614.8 228.8L607.8 228.8Z"/>
<path d="M617.2 218.9L620.7 225.1L613.7 225.1Z"/>
<path d="M604.0 236.5L607.5 242.7L600.5 242.7Z"/>
<path d="M591.6 238.8L595.1 244.9L588.1 244.9Z"/>
<path d="M624.5 245.8L628.0 251.9L621.0 251.9Z"/>
</g>
<g fill="#7a5fc0" fill-opacity="0.55" stroke="#7358bb" stroke-width="0.9">
<path d="M423.3 100.2L426.8 106.3L419.8 106.3Z"/>
<path d="M420.0 101.7L423.5 107.8L416.5 107.8Z"/>
<path d="M411.7 106.2L415.2 112.3L408.2 112.3Z"/>
<path d="M414.8 106.7L418.3 112.8L411.3 112.8Z"/>
<path d="M410.0 112.2L413.5 118.2L406.5 118.2Z"/>
<path d="M408.3 118.9L411.8 125.0L404.8 125.0Z"/>
<path d="M430.0 113.7L433.5 119.8L426.5 119.8Z"/>
<path d="M433.0 114.4L436.5 120.5L429.5 120.5Z"/>
<path d="M431.7 118.2L435.2 124.3L428.2 124.3Z"/>
<path d="M423.3 120.0L426.8 126.0L419.8 126.0Z"/>
<path d="M433.9 112.2L437.4 118.2L430.4 118.2Z"/>
<path d="M408.3 125.5L411.8 131.7L404.8 131.7Z"/>
<path d="M415.0 126.0L418.5 132.2L411.5 132.2Z"/>
<path d="M418.3 125.5L421.8 131.7L414.8 131.7Z"/>
<path d="M411.7 127.8L415.2 133.9L408.2 133.9Z"/>
<path d="M421.7 127.1L425.2 133.2L418.2 133.2Z"/>
<path d="M426.7 126.0L430.2 132.2L423.2 132.2Z"/>
<path d="M430.6 123.9L434.1 130.0L427.1 130.0Z"/>
<path d="M432.8 126.0L436.3 132.2L429.3 132.2Z"/>
<path d="M415.6 134.9L419.1 141.1L412.1 141.1Z"/>
<path d="M410.6 140.5L414.1 146.7L407.1 146.7Z"/>
<path d="M421.1 140.5L424.6 146.7L417.6 146.7Z"/>
<path d="M425.0 137.8L428.5 143.9L421.5 143.9Z"/>
<path d="M428.3 137.1L431.8 143.2L424.8 143.2Z"/>
<path d="M431.7 136.0L435.2 142.2L428.2 142.2Z"/>
<path d="M423.9 144.3L427.4 150.5L420.4 150.5Z"/>
<path d="M428.9 143.8L432.4 150.0L425.4 150.0Z"/>
<path d="M432.8 144.9L436.3 151.1L429.3 151.1Z"/>
<path d="M420.6 149.3L424.1 155.5L417.1 155.5Z"/>
<path d="M427.2 150.5L430.7 156.7L423.7 156.7Z"/>
<path d="M433.9 150.5L437.4 156.7L430.4 156.7Z"/>
<path d="M416.1 156.9L419.6 163.1L412.6 163.1Z"/>
<path d="M418.3 161.9L421.8 168.1L414.8 168.1Z"/>
<path d="M408.9 166.3L412.4 172.5L405.4 172.5Z"/>
<path d="M412.2 165.8L415.7 172.0L408.7 172.0Z"/>
<path d="M414.4 167.5L417.9 173.7L410.9 173.7Z"/>
<path d="M417.2 168.0L420.7 174.2L413.7 174.2Z"/>
<path d="M413.3 173.0L416.8 179.2L409.8 179.2Z"/>
<path d="M421.7 172.5L425.2 178.7L418.2 178.7Z"/>
<path d="M426.1 163.0L429.6 169.2L422.6 169.2Z"/>
<path d="M428.9 162.5L432.4 168.7L425.4 168.7Z"/>
<path d="M431.7 160.2L435.2 166.4L428.2 166.4Z"/>
<path d="M433.9 159.1L437.4 165.2L430.4 165.2Z"/>
<path d="M433.9 168.0L437.4 174.2L430.4 174.2Z"/>
<path d="M441.7 102.2L445.2 108.2L438.2 108.2Z"/>
<path d="M451.7 100.5L455.2 106.6L448.2 106.6Z"/>
<path d="M460.0 102.8L463.5 108.8L456.5 108.8Z"/>
<path d="M467.8 105.0L471.3 111.0L464.3 111.0Z"/>
<path d="M473.9 100.5L477.4 106.6L470.4 106.6Z"/>
<path d="M483.3 103.2L486.8 109.3L479.8 109.3Z"/>
<path d="M450.6 107.2L454.1 113.2L447.1 113.2Z"/>
<path d="M448.3 114.4L451.8 120.5L444.8 120.5Z"/>
<path d="M455.0 114.4L458.5 120.5L451.5 120.5Z"/>
<path d="M463.3 116.0L466.8 122.1L459.8 122.1Z"/>
<path d="M467.8 116.0L471.3 122.1L464.3 122.1Z"/>
<path d="M469.4 118.2L472.9 124.3L465.9 124.3Z"/>
<path d="M477.2 117.8L480.7 123.8L473.7 123.8Z"/>
<path d="M482.2 112.2L485.7 118.2L478.7 118.2Z"/>
<path d="M483.9 120.5L487.4 126.6L480.4 126.6Z"/>
<path d="M439.4 118.9L442.9 125.0L435.9 125.0Z"/>
<path d="M438.3 126.3L441.8 132.4L434.8 132.4Z"/>
<path d="M441.7 126.3L445.2 132.4L438.2 132.4Z"/>
<path d="M451.7 127.4L455.2 133.5L448.2 133.5Z"/>
<path d="M455.6 128.0L459.1 134.1L452.1 134.1Z"/>
<path d="M466.1 127.4L469.6 133.5L462.6 133.5Z"/>
<path d="M471.7 126.3L475.2 132.4L468.2 132.4Z"/>
<path d="M482.8 127.4L486.3 133.5L479.3 133.5Z"/>
<path d="M439.4 136.2L442.9 142.4L435.9 142.4Z"/>
<path d="M443.9 135.1L447.4 141.2L440.4 141.2Z"/>
<path d="M437.2 140.8L440.7 146.9L433.7 146.9Z"/>
<path d="M442.8 141.2L446.3 147.4L439.3 147.4Z"/>
<path d="M450.6 139.6L454.1 145.8L447.1 145.8Z"/>
<path d="M457.2 139.6L460.7 145.8L453.7 145.8Z"/>
<path d="M463.9 138.5L467.4 144.7L460.4 144.7Z"/>
<path d="M471.7 139.6L475.2 145.8L468.2 145.8Z"/>
<path d="M477.2 138.5L480.7 144.7L473.7 144.7Z"/>
<path d="M483.9 136.2L487.4 142.4L480.4 142.4Z"/>
<path d="M437.2 148.5L440.7 154.7L433.7 154.7Z"/>
<path d="M445.0 147.3L448.5 153.5L441.5 153.5Z"/>
<path d="M452.8 149.6L456.3 155.8L449.3 155.8Z"/>
<path d="M461.7 150.8L465.2 156.9L458.2 156.9Z"/>
<path d="M468.3 148.5L471.8 154.7L464.8 154.7Z"/>
<path d="M475.0 148.5L478.5 154.7L471.5 154.7Z"/>
<path d="M481.7 149.6L485.2 155.8L478.2 155.8Z"/>
<path d="M438.3 157.3L441.8 163.5L434.8 163.5Z"/>
<path d="M449.4 156.2L452.9 162.4L445.9 162.4Z"/>
<path d="M466.1 157.3L469.6 163.5L462.6 163.5Z"/>
<path d="M472.8 156.2L476.3 162.4L469.3 162.4Z"/>
<path d="M479.4 154.0L482.9 160.2L475.9 160.2Z"/>
<path d="M483.9 157.3L487.4 163.5L480.4 163.5Z"/>
<path d="M457.2 145.1L460.7 151.2L453.7 151.2Z"/>
<path d="M480.6 144.0L484.1 150.2L477.1 150.2Z"/>
<path d="M437.2 164.2L440.7 170.4L433.7 170.4Z"/>
<path d="M441.7 164.2L445.2 170.4L438.2 170.4Z"/>
<path d="M445.0 165.3L448.5 171.5L441.5 171.5Z"/>
<path d="M449.4 169.2L452.9 175.4L445.9 175.4Z"/>
<path d="M456.1 169.8L459.6 176.0L452.6 176.0Z"/>
<path d="M458.3 173.1L461.8 179.2L454.8 179.2Z"/>
<path d="M460.6 170.9L464.1 177.1L457.1 177.1Z"/>
<path d="M472.8 167.6L476.3 173.8L469.3 173.8Z"/>
<path d="M477.2 169.2L480.7 175.4L473.7 175.4Z"/>
<path d="M480.6 167.6L484.1 173.8L477.1 173.8Z"/>
<path d="M483.9 165.3L487.4 171.5L480.4 171.5Z"/>
<path d="M474.4 174.2L477.9 180.4L470.9 180.4Z"/>
<path d="M468.3 162.0L471.8 168.2L464.8 168.2Z"/>
<path d="M499.4 100.5L502.9 106.6L495.9 106.6Z"/>
<path d="M495.6 105.0L499.1 111.0L492.1 111.0Z"/>
<path d="M489.4 112.2L492.9 118.2L485.9 118.2Z"/>
<path d="M491.7 115.0L495.2 121.0L488.2 121.0Z"/>
<path d="M487.2 117.2L490.7 123.2L483.7 123.2Z"/>
<path d="M496.1 120.5L499.6 126.6L492.6 126.6Z"/>
<path d="M489.4 120.5L492.9 126.6L485.9 126.6Z"/>
<path d="M488.3 128.5L491.8 134.7L484.8 134.7Z"/>
<path d="M491.7 126.3L495.2 132.4L488.2 132.4Z"/>
<path d="M496.1 125.1L499.6 131.2L492.6 131.2Z"/>
<path d="M493.9 129.6L497.4 135.8L490.4 135.8Z"/>
<path d="M488.3 136.2L491.8 142.4L484.8 142.4Z"/>
<path d="M497.2 139.6L500.7 145.8L493.7 145.8Z"/>
<path d="M498.3 142.9L501.8 149.1L494.8 149.1Z"/>
<path d="M487.2 145.1L490.7 151.2L483.7 151.2Z"/>
<path d="M486.1 150.8L489.6 156.9L482.6 156.9Z"/>
<path d="M488.3 158.5L491.8 164.7L484.8 164.7Z"/>
<path d="M491.7 124.0L495.2 130.2L488.2 130.2Z"/>
<path d="M487.2 164.2L490.7 170.4L483.7 170.4Z"/>
<path d="M491.7 164.2L495.2 170.4L488.2 170.4Z"/>
<path d="M487.2 173.1L490.7 179.2L483.7 179.2Z"/>
<path d="M489.4 169.8L492.9 176.0L485.9 176.0Z"/>
<path d="M492.8 167.6L496.3 173.8L489.3 173.8Z"/>
</g>
<g fill="#1f8a43" fill-opacity="0.28" stroke="#1f8a43" stroke-width="0.9">
<path d="M433.9 131.6L437.4 137.8L430.4 137.8Z"/>
<path d="M430.6 179.1L434.1 185.2L427.1 185.2Z"/>
<path d="M434.4 176.3L437.9 182.5L430.9 182.5Z"/>
<path d="M433.3 196.0L436.8 202.2L429.8 202.2Z"/>
<path d="M432.8 199.3L436.3 205.5L429.3 205.5Z"/>
<path d="M432.2 222.1L435.7 228.2L428.7 228.2Z"/>
<path d="M460.6 125.1L464.1 131.2L457.1 131.2Z"/>
<path d="M479.4 127.4L482.9 133.5L475.9 133.5Z"/>
<path d="M437.2 129.6L440.7 135.8L433.7 135.8Z"/>
<path d="M465.0 135.1L468.5 141.2L461.5 141.2Z"/>
<path d="M469.4 132.9L472.9 139.1L465.9 139.1Z"/>
<path d="M475.0 134.0L478.5 140.2L471.5 140.2Z"/>
<path d="M481.7 134.0L485.2 140.2L478.2 140.2Z"/>
<path d="M452.8 140.8L456.3 146.9L449.3 146.9Z"/>
<path d="M457.2 144.0L460.7 150.2L453.7 150.2Z"/>
<path d="M468.3 144.0L471.8 150.2L464.8 150.2Z"/>
<path d="M440.6 149.6L444.1 155.8L437.1 155.8Z"/>
<path d="M451.7 147.9L455.2 154.1L448.2 154.1Z"/>
<path d="M461.7 151.8L465.2 158.0L458.2 158.0Z"/>
<path d="M470.6 155.8L474.1 161.9L467.1 161.9Z"/>
<path d="M457.2 156.2L460.7 162.4L453.7 162.4Z"/>
<path d="M438.3 173.8L441.8 179.9L434.8 179.9Z"/>
<path d="M446.1 177.6L449.6 183.8L442.6 183.8Z"/>
<path d="M442.2 185.3L445.7 191.5L438.7 191.5Z"/>
<path d="M436.7 192.6L440.2 198.8L433.2 198.8Z"/>
<path d="M447.2 193.8L450.7 199.9L443.7 199.9Z"/>
<path d="M456.1 195.3L459.6 201.5L452.6 201.5Z"/>
<path d="M465.6 170.9L469.1 177.1L462.1 177.1Z"/>
<path d="M472.8 175.3L476.3 181.5L469.3 181.5Z"/>
<path d="M473.9 182.6L477.4 188.8L470.4 188.8Z"/>
<path d="M479.4 172.0L482.9 178.2L475.9 178.2Z"/>
<path d="M481.7 175.3L485.2 181.5L478.2 181.5Z"/>
<path d="M471.7 197.0L475.2 203.2L468.2 203.2Z"/>
<path d="M483.9 170.9L487.4 177.1L480.4 177.1Z"/>
<path d="M437.2 200.6L440.7 206.8L433.7 206.8Z"/>
<path d="M442.2 205.6L445.7 211.8L438.7 211.8Z"/>
<path d="M439.4 206.8L442.9 212.9L435.9 212.9Z"/>
<path d="M450.6 206.1L454.1 212.2L447.1 212.2Z"/>
<path d="M444.4 212.8L447.9 219.0L440.9 219.0Z"/>
<path d="M443.9 216.1L447.4 222.2L440.4 222.2Z"/>
<path d="M452.8 222.2L456.3 228.4L449.3 228.4Z"/>
<path d="M475.0 217.2L478.5 223.4L471.5 223.4Z"/>
<path d="M478.9 210.0L482.4 216.2L475.4 216.2Z"/>
<path d="M481.7 222.2L485.2 228.4L478.2 228.4Z"/>
<path d="M482.8 226.8L486.3 232.9L479.3 232.9Z"/>
<path d="M461.1 231.8L464.6 237.9L457.6 237.9Z"/>
<path d="M467.8 232.8L471.3 239.0L464.3 239.0Z"/>
<path d="M438.9 234.5L442.4 240.7L435.4 240.7Z"/>
<path d="M446.7 234.5L450.2 240.7L443.2 240.7Z"/>
<path d="M478.9 233.3L482.4 239.5L475.4 239.5Z"/>
<path d="M483.9 213.3L487.4 219.5L480.4 219.5Z"/>
<path d="M502.2 116.0L505.7 122.1L498.7 122.1Z"/>
<path d="M518.1 118.0L521.6 124.1L514.6 124.1Z"/>
<path d="M507.2 126.9L510.7 133.0L503.7 133.0Z"/>
<path d="M495.0 128.5L498.5 134.7L491.5 134.7Z"/>
<path d="M521.1 130.8L524.6 136.9L517.6 136.9Z"/>
<path d="M520.0 137.3L523.5 143.5L516.5 143.5Z"/>
<path d="M526.1 138.5L529.6 144.7L522.6 144.7Z"/>
<path d="M532.8 136.2L536.3 142.4L529.3 142.4Z"/>
<path d="M533.9 127.4L537.4 133.5L530.4 133.5Z"/>
<path d="M505.0 144.0L508.5 150.2L501.5 150.2Z"/>
<path d="M516.1 144.6L519.6 150.8L512.6 150.8Z"/>
<path d="M524.4 148.5L527.9 154.7L520.9 154.7Z"/>
<path d="M532.8 149.0L536.3 155.2L529.3 155.2Z"/>
<path d="M505.0 154.0L508.5 160.2L501.5 160.2Z"/>
<path d="M493.9 155.1L497.4 161.2L490.4 161.2Z"/>
<path d="M513.3 159.0L516.8 165.2L509.8 165.2Z"/>
<path d="M491.7 139.6L495.2 145.8L488.2 145.8Z"/>
<path d="M495.0 172.0L498.5 178.2L491.5 178.2Z"/>
<path d="M511.7 173.1L515.2 179.2L508.2 179.2Z"/>
<path d="M510.6 166.5L514.1 172.7L507.1 172.7Z"/>
<path d="M514.4 163.1L517.9 169.2L510.9 169.2Z"/>
<path d="M515.0 183.8L518.5 189.9L511.5 189.9Z"/>
<path d="M502.8 187.6L506.3 193.8L499.3 193.8Z"/>
<path d="M527.2 169.8L530.7 176.0L523.7 176.0Z"/>
<path d="M530.6 170.9L534.1 177.1L527.1 177.1Z"/>
<path d="M527.8 174.2L531.3 180.4L524.3 180.4Z"/>
<path d="M522.8 180.3L526.3 186.5L519.3 186.5Z"/>
<path d="M488.3 194.2L491.8 200.4L484.8 200.4Z"/>
<path d="M491.7 195.3L495.2 201.5L488.2 201.5Z"/>
<path d="M528.9 196.5L532.4 202.7L525.4 202.7Z"/>
<path d="M499.4 196.5L502.9 202.7L495.9 202.7Z"/>
<path d="M486.1 222.2L489.6 228.4L482.6 228.4Z"/>
<path d="M501.1 218.3L504.6 224.5L497.6 224.5Z"/>
<path d="M508.9 213.9L512.4 220.1L505.4 220.1Z"/>
<path d="M497.2 226.8L500.7 232.9L493.7 232.9Z"/>
<path d="M498.9 228.9L502.4 235.1L495.4 235.1Z"/>
<path d="M510.0 230.0L513.5 236.2L506.5 236.2Z"/>
<path d="M515.0 218.9L518.5 225.1L511.5 225.1Z"/>
<path d="M518.3 221.1L521.8 227.2L514.8 227.2Z"/>
<path d="M521.7 230.6L525.2 236.8L518.2 236.8Z"/>
<path d="M499.4 234.5L502.9 240.7L495.9 240.7Z"/>
<path d="M489.4 234.5L492.9 240.7L485.9 240.7Z"/>
<path d="M531.7 234.5L535.2 240.7L528.2 240.7Z"/>
<path d="M533.9 231.1L537.4 237.2L530.4 237.2Z"/>
<path d="M552.2 117.8L555.7 123.8L548.7 123.8Z"/>
<path d="M564.1 116.7L567.6 122.8L560.6 122.8Z"/>
<path d="M571.1 116.7L574.6 122.8L567.6 122.8Z"/>
<path d="M563.3 121.0L566.8 127.1L559.8 127.1Z"/>
<path d="M538.3 134.6L541.8 140.8L534.8 140.8Z"/>
<path d="M550.0 131.8L553.5 138.0L546.5 138.0Z"/>
<path d="M558.9 139.6L562.4 145.8L555.4 145.8Z"/>
<path d="M562.2 139.6L565.7 145.8L558.7 145.8Z"/>
<path d="M548.3 144.6L551.8 150.8L544.8 150.8Z"/>
<path d="M542.8 150.8L546.3 156.9L539.3 156.9Z"/>
<path d="M547.2 151.2L550.7 157.4L543.7 157.4Z"/>
<path d="M553.9 154.0L557.4 160.2L550.4 160.2Z"/>
<path d="M558.3 155.1L561.8 161.2L554.8 161.2Z"/>
<path d="M569.4 145.1L572.9 151.2L565.9 151.2Z"/>
<path d="M572.8 149.6L576.3 155.8L569.3 155.8Z"/>
<path d="M573.9 152.3L577.4 158.5L570.4 158.5Z"/>
<path d="M577.2 139.6L580.7 145.8L573.7 145.8Z"/>
<path d="M541.7 165.9L545.2 172.1L538.2 172.1Z"/>
<path d="M549.4 165.9L552.9 172.1L545.9 172.1Z"/>
<path d="M555.0 165.3L558.5 171.5L551.5 171.5Z"/>
<path d="M539.4 174.8L542.9 181.0L535.9 181.0Z"/>
<path d="M550.6 183.1L554.1 189.2L547.1 189.2Z"/>
<path d="M566.7 183.8L570.2 189.9L563.2 189.9Z"/>
<path d="M568.3 182.6L571.8 188.8L564.8 188.8Z"/>
<path d="M565.0 186.5L568.5 192.7L561.5 192.7Z"/>
<path d="M561.1 193.1L564.6 199.2L557.6 199.2Z"/>
<path d="M572.8 192.6L576.3 198.8L569.3 198.8Z"/>
<path d="M567.2 197.0L570.7 203.2L563.7 203.2Z"/>
<path d="M580.6 195.3L584.1 201.5L577.1 201.5Z"/>
<path d="M579.4 182.6L582.9 188.8L575.9 188.8Z"/>
<path d="M583.3 177.6L586.8 183.8L579.8 183.8Z"/>
<path d="M583.9 166.5L587.4 172.7L580.4 172.7Z"/>
<path d="M576.7 197.0L580.2 203.2L573.2 203.2Z"/>
<path d="M556.7 204.5L560.2 210.7L553.2 210.7Z"/>
<path d="M553.9 205.6L557.4 211.8L550.4 211.8Z"/>
<path d="M546.1 210.6L549.6 216.8L542.6 216.8Z"/>
<path d="M545.6 217.8L549.1 224.0L542.1 224.0Z"/>
<path d="M541.7 222.8L545.2 229.0L538.2 229.0Z"/>
<path d="M537.2 226.8L540.7 232.9L533.7 232.9Z"/>
<path d="M536.7 234.5L540.2 240.7L533.2 240.7Z"/>
<path d="M540.6 234.5L544.1 240.7L537.1 240.7Z"/>
<path d="M544.4 233.9L547.9 240.1L540.9 240.1Z"/>
<path d="M571.7 213.3L575.2 219.5L568.2 219.5Z"/>
<path d="M575.6 218.9L579.1 225.1L572.1 225.1Z"/>
<path d="M578.3 211.8L581.8 217.9L574.8 217.9Z"/>
<path d="M581.7 229.5L585.2 235.7L578.2 235.7Z"/>
<path d="M583.9 204.5L587.4 210.7L580.4 210.7Z"/>
<path d="M583.9 235.8L587.4 241.9L580.4 241.9Z"/>
<path d="M588.7 159.4L592.2 165.6L585.2 165.6Z"/>
<path d="M587.2 163.8L590.7 170.0L583.7 170.0Z"/>
<path d="M587.9 186.5L591.4 192.7L584.4 192.7Z"/>
<path d="M590.1 202.1L593.6 208.2L586.6 208.2Z"/>
</g>
<g fill="none" stroke="#4a4a4a" stroke-width="0.8">
<rect x="47.6" y="48.2" width="272.80" height="227.00"/>
<rect x="385.7" y="48.2" width="272.50" height="227.00"/>
</g>
<g stroke="#000" stroke-width="1.1" stroke-dasharray="4.15 4.15" fill="none">
<line x1="39" y1="97.9" x2="320.4" y2="97.9"/>
<line x1="39" y1="157.5" x2="320.4" y2="157.5"/>
<line x1="126.7" y1="35.8" x2="126.7" y2="275.2"/>
<line x1="228.0" y1="35.8" x2="228.0" y2="275.2"/>
<line x1="385.7" y1="210.8" x2="672" y2="210.8"/>
<line x1="385.7" y1="259.2" x2="672" y2="259.2"/>
<line x1="447.1" y1="35.8" x2="447.1" y2="275.2"/>
<line x1="590.8" y1="35.8" x2="590.8" y2="275.2"/>
</g>
<g fill="none" stroke-width="2.3">
<rect x="65.2" y="97.95" width="59.70" height="59.55" stroke="#0000ff"/>
<rect x="228.3" y="205.5" width="79.80" height="59.00" stroke="#ff0000"/>
<rect x="401.4" y="95.9" width="44.40" height="40.00" stroke="#0000ff"/>
<rect x="590.5" y="211" width="58.00" height="47.50" stroke="#ff0000"/>
</g>
<text class="tk" x="67.80" y="289.6" text-anchor="middle">0</text>
<text class="tk" x="113.74" y="289.6" text-anchor="middle">0.2</text>
<text class="tk" x="159.68" y="289.6" text-anchor="middle">0.4</text>
<text class="tk" x="205.62" y="289.6" text-anchor="middle">0.6</text>
<text class="tk" x="251.56" y="289.6" text-anchor="middle">0.8</text>
<text class="tk" x="297.50" y="289.6" text-anchor="middle">1</text>
<text class="tk" x="42.10" y="281.0" text-anchor="end">0.4</text>
<text class="tk" x="42.10" y="216.0" text-anchor="end">0.6</text>
<text class="tk" x="42.10" y="151.0" text-anchor="end">0.8</text>
<text class="tk" x="42.10" y="86.0" text-anchor="end">1</text>
<text class="tk" x="408.20" y="289.6" text-anchor="middle">0</text>
<text class="tk" x="453.64" y="289.6" text-anchor="middle">0.2</text>
<text class="tk" x="499.08" y="289.6" text-anchor="middle">0.4</text>
<text class="tk" x="544.52" y="289.6" text-anchor="middle">0.6</text>
<text class="tk" x="589.96" y="289.6" text-anchor="middle">0.8</text>
<text class="tk" x="635.40" y="289.6" text-anchor="middle">1</text>
<text class="tk" x="380.20" y="281.0" text-anchor="end">0.4</text>
<text class="tk" x="380.20" y="216.0" text-anchor="end">0.6</text>
<text class="tk" x="380.20" y="151.0" text-anchor="end">0.8</text>
<text class="tk" x="380.20" y="86.0" text-anchor="end">1</text>
<text class="lab" x="184.5" y="310" text-anchor="middle">Variability (IS)</text>
<text class="lab" x="522.5" y="310" text-anchor="middle">Variability (CV)</text>
<text class="lab" transform="translate(11.8,161.8) rotate(-90)" text-anchor="middle">Discriminability (AUC)</text>
<text class="lab" transform="translate(350.2,161.8) rotate(-90)" text-anchor="middle">Discriminability (AUC)</text>
<text x="186.6" y="13.4" text-anchor="middle" style="font-size:19.5px">(a)</text>
<text x="520.9" y="13.4" text-anchor="middle" style="font-size:19.5px">(b)</text>
<text class="th" x="128.5" y="40" text-anchor="start">T<tspan dx="3.3">H</tspan><tspan class="sub" dx="0.6" dy="2.5">3</tspan></text>
<text class="th" x="230" y="40" text-anchor="start">T<tspan dx="3.3">H</tspan><tspan class="sub" dx="0.6" dy="2.5">4</tspan></text>
<text class="th" x="448.5" y="40" text-anchor="start">T<tspan dx="3.3">H</tspan><tspan class="sub" dx="0.6" dy="2.5">7</tspan></text>
<text class="th" x="592.5" y="40" text-anchor="start">T<tspan dx="3.3">H</tspan><tspan class="sub" dx="0.6" dy="2.5">8</tspan></text>
<text class="th" x="19" y="111.8" text-anchor="start">T<tspan dx="3.3">H</tspan><tspan class="sub" dx="0.6" dy="2.5">1</tspan></text>
<text class="th" x="19" y="171.5" text-anchor="start">T<tspan dx="3.3">H</tspan><tspan class="sub" dx="0.6" dy="2.5">2</tspan></text>
<text class="th" x="659.5" y="206.8" text-anchor="start">T<tspan dx="3.3">H</tspan><tspan class="sub" dx="0.6" dy="2.5">6</tspan></text>
<text class="th" x="659.5" y="254.8" text-anchor="start">T<tspan dx="3.3">H</tspan><tspan class="sub" dx="0.6" dy="2.5">5</tspan></text>
<path d="M162.9 328L166.0 333.6L159.8 333.6Z" fill="#555"/>
<circle cx="162.9" cy="339.2" r="3.2" fill="#777"/>
<text class="th" x="193.1" y="338.6">F<tspan class="sub" dy="2.5">1</tspan></text>
<path d="M262.2 328L265.3 333.6L259.09999999999997 333.6Z" fill="#c8102e"/>
<circle cx="262.2" cy="339.2" r="3.2" fill="#d84a55"/>
<text class="th" x="279.3" y="338.6">F<tspan class="sub" dy="2.5">2</tspan></text>
<path d="M333.8 328L336.90000000000003 333.6L330.7 333.6Z" fill="#2f78c0"/>
<circle cx="333.8" cy="339.2" r="3.2" fill="#4a8fd0"/>
<text class="th" x="358.3" y="338.6">F<tspan class="sub" dy="2.5">3</tspan></text>
<path d="M421.5 328L424.6 333.6L418.4 333.6Z" fill="#6a4cb0"/>
<circle cx="421.5" cy="339.2" r="3.2" fill="#8c74c8"/>
<text class="th" x="440.3" y="338.6">F<tspan class="sub" dy="2.5">4</tspan></text>
<path d="M500.8 328L503.90000000000003 333.6L497.7 333.6Z" fill="#1f8a45"/>
<circle cx="500.8" cy="339.2" r="3.2" fill="#3a9a5a"/>
<text class="th" x="525.7" y="338.6">F<tspan class="sub" dy="2.5">5</tspan></text>
</svg></body></html>
